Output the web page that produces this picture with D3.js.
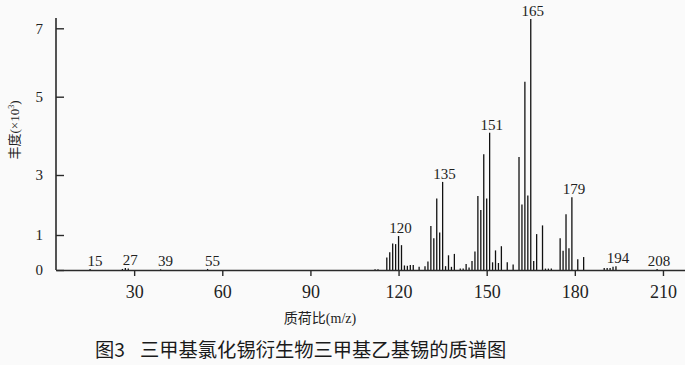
<!DOCTYPE html>
<html>
<head>
<meta charset="utf-8">
<script src="https://cdn.jsdelivr.net/npm/d3@7"></script>
<style>
  body { margin: 0; background: #fafafa; }
  svg { display: block; }
</style>
</head>
<body>
<svg id="chart"></svg>
<script>
// m/z of each peak and its abundance (x10^3)
const mz = [15, 26, 27, 28, 39, 55, 112, 113,
  116, 117, 118, 119, 120, 121, 122, 123, 124, 125, 127, 129,
  130, 131, 132, 133, 134, 135, 136, 137, 138, 139, 141, 142, 143, 144,
  145, 146, 147, 148, 149, 150, 151, 152, 153, 154, 155, 157, 159,
  161, 162, 163, 164, 165, 166, 167, 169, 170, 171, 172,
  175, 176, 177, 178, 179, 181, 183, 190, 191, 192, 193, 194, 208];
const abundance = [0.03, 0.03, 0.06, 0.04, 0.02, 0.03, 0.02, 0.02,
  0.36, 0.51, 0.76, 0.74, 0.97, 0.71, 0.13, 0.12, 0.14, 0.14, 0.09, 0.11,
  0.24, 1.30, 0.91, 2.22, 1.08, 2.77, 0.11, 0.42, 0.09, 0.46, 0.04, 0.04, 0.17, 0.07,
  0.26, 0.53, 2.30, 1.83, 3.53, 2.22, 4.08, 0.22, 0.56, 0.20, 0.68, 0.22, 0.16,
  3.46, 2.02, 5.44, 2.32, 7.27, 0.26, 1.03, 1.32, 0.04, 0.04, 0.04,
  0.91, 0.55, 1.69, 0.62, 2.26, 0.31, 0.37, 0.06, 0.06, 0.06, 0.09, 0.11, 0.03];
const peakLabels = [15, 27, 39, 55, 120, 135, 151, 165, 179, 194, 208];
const xTicks = [30, 60, 90, 120, 150, 180, 210];
const yTicks = [0, 1, 3, 5, 7];

const peaks = mz.map((m, i) => ({ m: m, v: abundance[i] }));

const width = 685, height = 365;
const svg = d3.select('#chart')
    .attr('width', width)
    .attr('height', height);

const x = d3.scaleLinear()
    .domain([3.4, 217.5])
    .range([56, 685]);

// the printed axis is not evenly spaced, so follow its tick marks
const y = d3.scaleLinear()
    .domain([0, 1, 3, 5, 7])
    .range([270, 235, 175, 96.7, 28.3]);

const serif = '"Liberation Serif", "Noto Sans CJK SC", serif';

// bars
svg.append('g')
    .selectAll('line')
    .data(peaks)
    .join('line')
    .attr('x1', d => x(d.m))
    .attr('x2', d => x(d.m))
    .attr('y1', y(0))
    .attr('y2', d => y(d.v))
    .attr('stroke', '#111')
    .attr('stroke-width', 1.3);

// x axis
const xAxis = svg.append('g')
    .attr('transform', `translate(0, ${y(0)})`)
    .call(d3.axisBottom(x).tickValues(xTicks).tickSize(6).tickPadding(9).tickSizeOuter(0));
xAxis.select('.domain').attr('stroke', '#2a2a2a').attr('stroke-width', 1.6);
xAxis.selectAll('.tick line').attr('stroke', '#2a2a2a').attr('stroke-width', 1.4);
xAxis.selectAll('.tick text')
    .attr('font-family', serif)
    .attr('font-size', 18)
    .attr('fill', '#222');

// y axis
const yAxis = svg.append('g')
    .attr('transform', `translate(${x.range()[0]}, 0)`)
    .call(d3.axisLeft(y).tickValues(yTicks).tickFormat(d3.format('d'))
        .tickSize(-8).tickPadding(13).tickSizeOuter(0));
yAxis.select('.domain')
    .attr('d', `M0,18V${y(0)}`)
    .attr('stroke', '#2a2a2a').attr('stroke-width', 1.6);
yAxis.selectAll('.tick line').attr('stroke', '#2a2a2a').attr('stroke-width', 1.4);
yAxis.selectAll('.tick text')
    .attr('font-family', serif)
    .attr('font-size', 15)
    .attr('fill', '#222');

// peak labels
svg.append('g')
    .selectAll('text')
    .data(peakLabels)
    .join('text')
    .attr('x', d => x(d) + (d < 100 ? 5 : 2))
    .attr('y', d => y(abundance[mz.indexOf(d)]) - 3)
    .attr('text-anchor', 'middle')
    .attr('font-family', serif)
    .attr('font-size', 15)
    .attr('fill', '#222')
    .text(d => d);

// axis titles
svg.append('text')
    .attr('x', 320)
    .attr('y', 323)
    .attr('text-anchor', 'middle')
    .attr('font-family', serif)
    .attr('font-size', 14)
    .attr('fill', '#222')
    .text('质荷比(m/z)');

const yTitle = svg.append('text')
    .attr('transform', 'translate(19, 130) rotate(-90)')
    .attr('text-anchor', 'middle')
    .attr('font-family', serif)
    .attr('font-size', 13)
    .attr('fill', '#222');
yTitle.append('tspan').text('丰度(×10');
yTitle.append('tspan').attr('font-size', 8).attr('dy', -5).text('3');
yTitle.append('tspan').attr('dy', 5).text(')');

// caption
const caption = svg.append('text')
    .attr('x', 95)
    .attr('y', 357)
    .attr('font-family', '"Noto Sans CJK SC", sans-serif')
    .attr('font-size', 19.3)
    .attr('fill', '#1a1a1a');
caption.append('tspan').text('图3');
caption.append('tspan').attr('dx', 15).text('三甲基氯化锡衍生物三甲基乙基锡的质谱图');
</script>
</body>
</html>
